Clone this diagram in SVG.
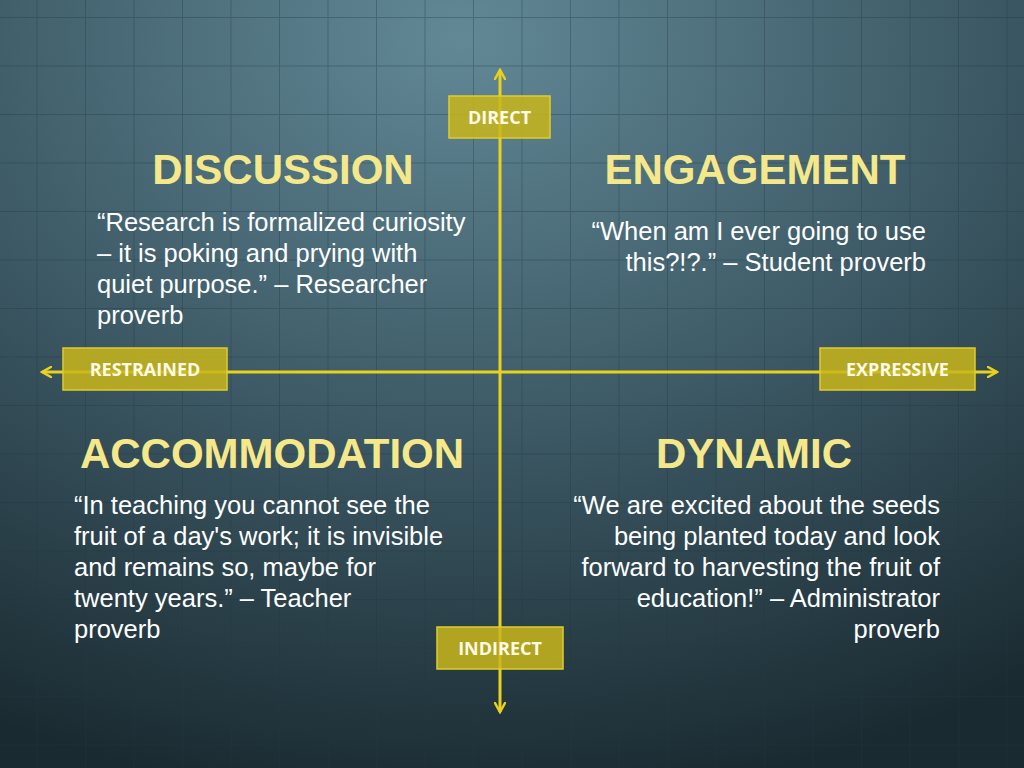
<svg xmlns="http://www.w3.org/2000/svg" width="1024" height="768" viewBox="0 0 1024 768">
<defs>
<radialGradient id="bg" cx="0.45" cy="0.05" r="1.0">
<stop offset="0" stop-color="#628896"/>
<stop offset="0.5" stop-color="#3d5a66"/>
<stop offset="1" stop-color="#1a2a31"/>
</radialGradient>
<pattern id="grid" x="-12" y="17" width="48.5" height="48.5" patternUnits="userSpaceOnUse">
<path d="M0 0H48.5M0 0V48.5" stroke="#203640" stroke-opacity="0.35" stroke-width="2" fill="none"/>
</pattern>
<marker id="ah" viewBox="0 0 12 12" refX="10" refY="6" markerWidth="12" markerHeight="12" markerUnits="userSpaceOnUse" orient="auto">
<path d="M1 1L10 6L1 11" fill="none" stroke="#e8d21f" stroke-width="2.5" stroke-linecap="round"/>
</marker>
<style>
.ax{stroke:#e8d21f;stroke-width:3;fill:none}
.box{fill:#c9b61a;fill-opacity:0.85;stroke:#e0cc30;stroke-width:1.5}
.bl{font-family:"Open Sans","DejaVu Sans",sans-serif;font-weight:bold;font-size:18px;fill:#fffbe6;text-anchor:middle}
.h{font-family:"Liberation Sans",Arial,sans-serif;font-weight:bold;font-size:42px;fill:#f5e88a;text-anchor:middle}
.q{font-family:"Liberation Sans",Arial,sans-serif;font-size:25.5px;fill:#ffffff}
.r{text-anchor:end}
</style>
</defs>
<rect width="1024" height="768" fill="url(#bg)"/>
<rect width="1024" height="768" fill="url(#grid)"/>
<g id="connectors">
<line class="ax" x1="500" y1="372" x2="500" y2="70" marker-end="url(#ah)"/>
<line class="ax" x1="500" y1="372" x2="500" y2="712" marker-end="url(#ah)"/>
<line class="ax" x1="500" y1="372" x2="42" y2="372" marker-end="url(#ah)"/>
<line class="ax" x1="500" y1="372" x2="997" y2="372" marker-end="url(#ah)"/>
</g>
<g id="direct"><rect class="box" x="449" y="96" width="101" height="42"/><text class="bl" x="499.5" y="124">DIRECT</text></g>
<g id="indirect"><rect class="box" x="437" y="627" width="126" height="42"/><text class="bl" x="500" y="655">INDIRECT</text></g>
<g id="restrained"><rect class="box" x="63" y="348" width="164" height="42"/><text class="bl" x="145" y="376">RESTRAINED</text></g>
<g id="expressive"><rect class="box" x="820" y="348" width="155" height="42"/><text class="bl" x="897.5" y="376">EXPRESSIVE</text></g>
<g id="discussion">
<text class="h" x="283" y="184">DISCUSSION</text>
<text class="q" x="97" y="231">“Research is formalized curiosity</text>
<text class="q" x="97" y="262">– it is poking and prying with</text>
<text class="q" x="97" y="293">quiet purpose.” – Researcher</text>
<text class="q" x="97" y="324">proverb</text>
</g>
<g id="engagement">
<text class="h" x="755" y="184">ENGAGEMENT</text>
<text class="q r" x="926" y="240">“When am I ever going to use</text>
<text class="q r" x="926" y="271">this?!?.” – Student proverb</text>
</g>
<g id="accommodation">
<text class="h" x="272" y="468">ACCOMMODATION</text>
<text class="q" x="74" y="514">“In teaching you cannot see the</text>
<text class="q" x="74" y="545">fruit of a day's work; it is invisible</text>
<text class="q" x="74" y="576">and remains so, maybe for</text>
<text class="q" x="74" y="607">twenty years.” – Teacher</text>
<text class="q" x="74" y="638">proverb</text>
</g>
<g id="dynamic">
<text class="h" x="754" y="468">DYNAMIC</text>
<text class="q r" x="940" y="514">“We are excited about the seeds</text>
<text class="q r" x="940" y="545">being planted today and look</text>
<text class="q r" x="940" y="576">forward to harvesting the fruit of</text>
<text class="q r" x="940" y="607">education!” – Administrator</text>
<text class="q r" x="940" y="638">proverb</text>
</g>
</svg>
